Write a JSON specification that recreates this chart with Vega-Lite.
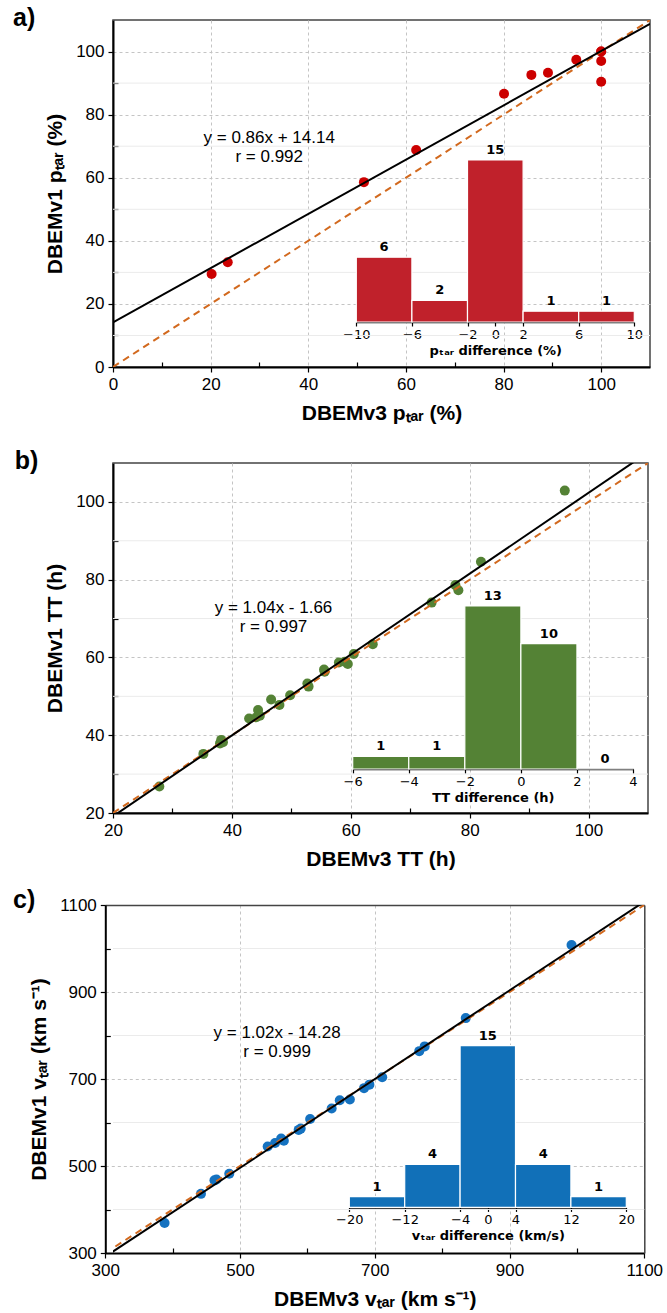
{
  "$schema": "https://vega.github.io/schema/vega-lite/v6.json",
  "padding": {"left": 12, "top": 5, "right": 5, "bottom": 5},
  "config": {
    "view": {"stroke": "#444", "strokeWidth": 1.5},
    "font": "Liberation Sans",
    "axis": {
      "labelFont": "Liberation Sans", "labelFontSize": 17, "labelColor": "black", "labelFlush": false,
      "titleFont": "Liberation Sans", "titleFontSize": 21, "titleFontWeight": "bold", "titleColor": "black",
      "domainColor": "black", "domainWidth": 2, "tickColor": "black", "tickSize": 5, "tickWidth": 1.2,
      "gridColor": "#c4c4c4", "gridDash": [3, 3], "gridWidth": 1, "labelPadding": 4
    }
  },
  "datasets": {
    "a_pts": [
      {"x": 20.2, "y": 29.5}, {"x": 23.5, "y": 33.2}, {"x": 51.4, "y": 58.6}, {"x": 62.1, "y": 68.8},
      {"x": 80.1, "y": 86.6}, {"x": 85.7, "y": 92.6}, {"x": 89.1, "y": 93.3}, {"x": 94.9, "y": 97.4},
      {"x": 100, "y": 100}, {"x": 100, "y": 100}, {"x": 100, "y": 97}, {"x": 100, "y": 90.4}
    ],
    "a_hist": [
      {"b0": -10, "b1": -6, "mid": -8, "n": 6}, {"b0": -6, "b1": -2, "mid": -4, "n": 2},
      {"b0": -2, "b1": 2, "mid": 0, "n": 15}, {"b0": 2, "b1": 6, "mid": 4, "n": 1},
      {"b0": 6, "b1": 10, "mid": 8, "n": 1}
    ],
    "b_pts": [
      {"x": 27.8, "y": 26.8}, {"x": 35.2, "y": 35.2}, {"x": 38.0, "y": 37.9}, {"x": 38.2, "y": 38.8},
      {"x": 38.5, "y": 38.2}, {"x": 42.9, "y": 44.3}, {"x": 44.1, "y": 44.6}, {"x": 44.4, "y": 46.5},
      {"x": 44.7, "y": 45.0}, {"x": 46.6, "y": 49.2}, {"x": 48.0, "y": 47.8}, {"x": 49.8, "y": 50.3},
      {"x": 52.7, "y": 53.3}, {"x": 52.9, "y": 52.5}, {"x": 55.5, "y": 56.9}, {"x": 55.6, "y": 56.3},
      {"x": 58.0, "y": 58.7}, {"x": 59.0, "y": 58.9}, {"x": 59.5, "y": 58.3}, {"x": 60.5, "y": 60.9},
      {"x": 63.7, "y": 63.4}, {"x": 73.6, "y": 74.1}, {"x": 77.6, "y": 78.6}, {"x": 78.1, "y": 77.3},
      {"x": 81.9, "y": 84.6}, {"x": 96.0, "y": 102.9}
    ],
    "b_hist": [
      {"b0": -6, "b1": -4, "mid": -5, "n": 1}, {"b0": -4, "b1": -2, "mid": -3, "n": 1},
      {"b0": -2, "b1": 0, "mid": -1, "n": 13}, {"b0": 0, "b1": 2, "mid": 1, "n": 10},
      {"b0": 2, "b1": 4, "mid": 3, "n": 0}
    ],
    "c_pts": [
      {"x": 388, "y": 369}, {"x": 442, "y": 436}, {"x": 462, "y": 467}, {"x": 465, "y": 469},
      {"x": 484, "y": 482}, {"x": 541, "y": 545}, {"x": 552, "y": 553}, {"x": 561, "y": 563},
      {"x": 565, "y": 558}, {"x": 587, "y": 583}, {"x": 590, "y": 586}, {"x": 604, "y": 608},
      {"x": 636, "y": 632}, {"x": 648, "y": 651}, {"x": 663, "y": 653}, {"x": 684, "y": 679},
      {"x": 692, "y": 687}, {"x": 711, "y": 704}, {"x": 766, "y": 764}, {"x": 774, "y": 775},
      {"x": 835, "y": 840}, {"x": 992, "y": 1008}
    ],
    "c_hist": [
      {"b0": -20, "b1": -12, "mid": -16, "n": 1}, {"b0": -12, "b1": -4, "mid": -8, "n": 4},
      {"b0": -4, "b1": 4, "mid": 0, "n": 15}, {"b0": 4, "b1": 12, "mid": 8, "n": 4},
      {"b0": 12, "b1": 20, "mid": 16, "n": 1}
    ]
  },
  "concat": [
    {
      "concat": [
        {
          "width": 537, "height": 347,
          "title": {"text": "a)", "anchor": "start", "frame": "group", "dx": -100, "dy": 24, "offset": 1, "fontSize": 25, "fontWeight": "bold", "font": "Liberation Sans", "baseline": "middle", "color": "black"},
          "layer": [
            {
              "data": {"values": [{"m": 10}, {"m": 30}, {"m": 50}, {"m": 70}, {"m": 90}]},
              "layer": [
                {"mark": {"type": "rule", "color": "#ebebeb", "strokeWidth": 1},
                 "encoding": {"y": {"field": "m", "type": "quantitative", "scale": {"domain": [0, 110], "nice": false, "zero": false},
                   "axis": {"values": [10, 30, 50, 70, 90], "labels": false, "grid": false, "domain": false, "tickSize": -5, "title": null, "orient": "left"}}}},
                {"mark": {"type": "point", "opacity": 0},
                 "encoding": {
                   "x": {"field": "m", "type": "quantitative", "scale": {"domain": [0, 110], "nice": false, "zero": false},
                     "axis": {"values": [10, 30, 50, 70, 90], "labels": false, "grid": false, "domain": false, "tickSize": -5, "title": null, "orient": "bottom"}},
                   "y": {"field": "m", "type": "quantitative",
                     "axis": {"values": [10, 30, 50, 70, 90], "labels": false, "grid": false, "domain": false, "tickSize": -5, "title": null, "orient": "left"}}}}
              ]
            },
            {
              "layer": [
                {"data": {"name": "a_pts"},
                 "mark": {"type": "circle", "size": 100, "opacity": 1, "color": "#cc0000"},
                 "encoding": {
                   "x": {"field": "x", "type": "quantitative", "scale": {"domain": [0, 110], "nice": false, "zero": false},
                     "axis": {"values": [0, 20, 40, 60, 80, 100], "title": "DBEMv3 pₜₐᵣ (%)", "grid": true, "orient": "bottom", "titlePadding": 10}},
                   "y": {"field": "y", "type": "quantitative", "scale": {"domain": [0, 110], "nice": false, "zero": false},
                     "axis": {"values": [0, 20, 40, 60, 80, 100], "title": "DBEMv1 pₜₐᵣ (%)", "grid": true, "orient": "left", "titlePadding": 10}}}},
                {"data": {"values": [{"x": 0, "y": 0}, {"x": 110, "y": 110}]},
                 "mark": {"type": "line", "color": "#d2691e", "strokeWidth": 2, "strokeDash": [7, 5], "clip": true},
                 "encoding": {"x": {"field": "x", "type": "quantitative"}, "y": {"field": "y", "type": "quantitative"}}},
                {"data": {"values": [{"x": 0, "y": 14.14}, {"x": 110, "y": 108.74}]},
                 "mark": {"type": "line", "color": "black", "strokeWidth": 2, "clip": true},
                 "encoding": {"x": {"field": "x", "type": "quantitative"}, "y": {"field": "y", "type": "quantitative"}}},
                {"data": {"values": [{}]},
                 "mark": {"type": "text", "text": ["y = 0.86x + 14.14", "r = 0.992"], "fontSize": 17, "font": "Liberation Sans", "align": "center", "baseline": "middle", "lineHeight": 19, "color": "black"},
                 "encoding": {"x": {"datum": 32}, "y": {"datum": 72.7}}}
              ]
            },
            {
              "data": {"name": "a_hist"},
              "layer": [
                {"mark": {"type": "rect", "color": "#c0212b", "stroke": "white", "strokeWidth": 1.2},
                 "encoding": {
                   "x": {"field": "b0", "type": "quantitative", "scale": {"domain": [-10, 10], "range": [243.3, 521.3], "nice": false, "zero": false},
                     "axis": {"orient": "bottom", "offset": -45, "values": [-10, -6, -2, 0, 2, 6, 10], "title": "pₜₐᵣ difference (%)", "grid": false,
                       "labelFont": "DejaVu Sans", "labelFontSize": 13, "titleFont": "DejaVu Sans", "titleFontSize": 13, "titleFontWeight": "bold",
                       "domainWidth": 1.5, "tickSize": 4, "labelPadding": 2, "titlePadding": 3}},
                   "x2": {"field": "b1"},
                   "y": {"field": "n", "type": "quantitative", "scale": {"domain": [0, 15], "range": [302, 140], "nice": false, "zero": false}, "axis": null},
                   "y2": {"datum": 0}}},
                {"mark": {"type": "text", "font": "DejaVu Sans", "fontSize": 13, "fontWeight": "bold", "baseline": "bottom", "dy": -3, "color": "black"},
                 "encoding": {"x": {"field": "mid", "type": "quantitative"}, "y": {"field": "n", "type": "quantitative"}, "text": {"field": "n", "type": "quantitative"}}}
              ]
            }
          ],
          "resolve": {"scale": {"x": "independent", "y": "independent"}, "axis": {"x": "independent", "y": "independent"}}
        },
        {
          "width": 535, "height": 350,
          "title": {"text": "b)", "anchor": "start", "frame": "group", "dx": -98.3, "dy": 24, "offset": 1, "fontSize": 25, "fontWeight": "bold", "font": "Liberation Sans", "baseline": "middle", "color": "black"},
          "layer": [
            {
              "data": {"values": [{"m": 30}, {"m": 50}, {"m": 70}, {"m": 90}]},
              "layer": [
                {"mark": {"type": "rule", "color": "#ebebeb", "strokeWidth": 1},
                 "encoding": {"y": {"field": "m", "type": "quantitative", "scale": {"domain": [20, 110], "nice": false, "zero": false},
                   "axis": {"values": [30, 50, 70, 90], "labels": false, "grid": false, "domain": false, "tickSize": -5, "title": null, "orient": "left"}}}},
                {"mark": {"type": "point", "opacity": 0},
                 "encoding": {
                   "x": {"field": "m", "type": "quantitative", "scale": {"domain": [20, 110], "nice": false, "zero": false},
                     "axis": {"values": [30, 50, 70, 90], "labels": false, "grid": false, "domain": false, "tickSize": -5, "title": null, "orient": "bottom"}},
                   "y": {"field": "m", "type": "quantitative",
                     "axis": {"values": [30, 50, 70, 90], "labels": false, "grid": false, "domain": false, "tickSize": -5, "title": null, "orient": "left"}}}}
              ]
            },
            {
              "layer": [
                {"data": {"name": "b_pts"},
                 "mark": {"type": "circle", "size": 100, "opacity": 1, "color": "#548235"},
                 "encoding": {
                   "x": {"field": "x", "type": "quantitative", "scale": {"domain": [20, 110], "nice": false, "zero": false},
                     "axis": {"values": [20, 40, 60, 80, 100], "title": "DBEMv3 TT (h)", "grid": true, "orient": "bottom", "titlePadding": 10}},
                   "y": {"field": "y", "type": "quantitative", "scale": {"domain": [20, 110], "nice": false, "zero": false},
                     "axis": {"values": [20, 40, 60, 80, 100], "title": "DBEMv1 TT (h)", "grid": true, "orient": "left", "titlePadding": 10}}}},
                {"data": {"values": [{"x": 20, "y": 20}, {"x": 110, "y": 110}]},
                 "mark": {"type": "line", "color": "#d2691e", "strokeWidth": 2, "strokeDash": [7, 5], "clip": true},
                 "encoding": {"x": {"field": "x", "type": "quantitative"}, "y": {"field": "y", "type": "quantitative"}}},
                {"data": {"values": [{"x": 20, "y": 19.14}, {"x": 110, "y": 112.74}]},
                 "mark": {"type": "line", "color": "black", "strokeWidth": 2, "clip": true},
                 "encoding": {"x": {"field": "x", "type": "quantitative"}, "y": {"field": "y", "type": "quantitative"}}},
                {"data": {"values": [{}]},
                 "mark": {"type": "text", "text": ["y = 1.04x - 1.66", "r = 0.997"], "fontSize": 17, "font": "Liberation Sans", "align": "center", "baseline": "middle", "lineHeight": 19, "color": "black"},
                 "encoding": {"x": {"datum": 47}, "y": {"datum": 72.6}}}
              ]
            },
            {
              "data": {"name": "b_hist"},
              "layer": [
                {"mark": {"type": "rect", "color": "#548235", "stroke": "white", "strokeWidth": 1.2},
                 "encoding": {
                   "x": {"field": "b0", "type": "quantitative", "scale": {"domain": [-6, 4], "range": [239.7, 520], "nice": false, "zero": false},
                     "axis": {"orient": "bottom", "offset": -44, "values": [-6, -4, -2, 0, 2, 4], "title": "TT difference (h)", "grid": false,
                       "labelFont": "DejaVu Sans", "labelFontSize": 13, "titleFont": "DejaVu Sans", "titleFontSize": 13, "titleFontWeight": "bold",
                       "domainWidth": 1.5, "tickSize": 4, "labelPadding": 2, "titlePadding": 3}},
                   "x2": {"field": "b1"},
                   "y": {"field": "n", "type": "quantitative", "scale": {"domain": [0, 13], "range": [306, 143], "nice": false, "zero": false}, "axis": null},
                   "y2": {"datum": 0}}},
                {"mark": {"type": "text", "font": "DejaVu Sans", "fontSize": 13, "fontWeight": "bold", "baseline": "bottom", "dy": -3, "color": "black"},
                 "encoding": {"x": {"field": "mid", "type": "quantitative"}, "y": {"field": "n", "type": "quantitative"}, "text": {"field": "n", "type": "quantitative"}}}
              ]
            }
          ],
          "resolve": {"scale": {"x": "independent", "y": "independent"}, "axis": {"x": "independent", "y": "independent"}}
        }
      ],
      "columns": 1,
      "spacing": 24,
      "align": "none"
    },
    {
      "width": 531.3, "height": 348,
      "view": {"stroke": null},
      "title": {"text": "c)", "anchor": "start", "frame": "group", "dx": -100, "dy": 30, "offset": 1, "fontSize": 25, "fontWeight": "bold", "font": "Liberation Sans", "baseline": "middle", "color": "black"},
      "layer": [
        {
          "data": {"values": [{"m": 400}, {"m": 600}, {"m": 800}, {"m": 1000}]},
          "layer": [
            {"mark": {"type": "rule", "color": "#ebebeb", "strokeWidth": 1},
             "encoding": {"y": {"field": "m", "type": "quantitative", "scale": {"domain": [300, 1100], "nice": false, "zero": false},
               "axis": {"values": [400, 600, 800, 1000], "labels": false, "grid": false, "domain": false, "tickSize": -5, "title": null, "orient": "left", "offset": 7.7}}}},
            {"mark": {"type": "point", "opacity": 0},
             "encoding": {
               "x": {"field": "m", "type": "quantitative", "scale": {"domain": [300, 1100], "range": [-7.7, 531.3], "nice": false, "zero": false},
                 "axis": {"values": [400, 600, 800, 1000], "labels": false, "grid": false, "domain": false, "tickSize": -5, "title": null, "orient": "bottom"}},
               "y": {"field": "m", "type": "quantitative",
                 "axis": {"values": [400, 600, 800, 1000], "labels": false, "grid": false, "domain": false, "tickSize": -5, "title": null, "orient": "left", "offset": 7.7}}}}
          ]
        },
        {
          "data": {"values": [{"m": 300}]},
          "mark": {"type": "point", "opacity": 0},
          "encoding": {
            "x": {"field": "m", "type": "quantitative", "scale": {"domain": [300, 1100], "range": [-7.7, 531.3], "nice": false, "zero": false},
              "axis": {"orient": "top", "labels": false, "ticks": false, "grid": false, "title": null, "domain": true, "domainColor": "#444", "domainWidth": 1.5}},
            "y": {"field": "m", "type": "quantitative", "scale": {"domain": [300, 1100], "nice": false, "zero": false},
              "axis": {"orient": "right", "labels": false, "ticks": false, "grid": false, "title": null, "domain": true, "domainColor": "#444", "domainWidth": 1.5}}}
        },
        {
          "layer": [
            {"data": {"name": "c_pts"},
             "mark": {"type": "circle", "size": 100, "opacity": 1, "color": "#1572c0"},
             "encoding": {
               "x": {"field": "x", "type": "quantitative", "scale": {"domain": [300, 1100], "range": [-7.7, 531.3], "nice": false, "zero": false},
                 "axis": {"values": [300, 500, 700, 900, 1100], "format": "d", "title": "DBEMv3 vₜₐᵣ (km s⁻¹)", "grid": true, "orient": "bottom", "titlePadding": 10}},
               "y": {"field": "y", "type": "quantitative", "scale": {"domain": [300, 1100], "nice": false, "zero": false},
                 "axis": {"values": [300, 500, 700, 900, 1100], "format": "d", "title": "DBEMv1 vₜₐᵣ (km s⁻¹)", "grid": true, "orient": "left", "offset": 7.7, "titlePadding": 10}}}},
            {"data": {"values": [{"x": 300, "y": 300}, {"x": 1100, "y": 1100}]},
             "mark": {"type": "line", "color": "#d2691e", "strokeWidth": 2, "strokeDash": [7, 5], "clip": true},
             "encoding": {"x": {"field": "x", "type": "quantitative"}, "y": {"field": "y", "type": "quantitative"}}},
            {"data": {"values": [{"x": 300, "y": 291.72}, {"x": 1100, "y": 1107.72}]},
             "mark": {"type": "line", "color": "black", "strokeWidth": 2, "clip": true},
             "encoding": {"x": {"field": "x", "type": "quantitative"}, "y": {"field": "y", "type": "quantitative"}}},
            {"data": {"values": [{}]},
             "mark": {"type": "text", "text": ["y = 1.02x - 14.28", "r = 0.999"], "fontSize": 17, "font": "Liberation Sans", "align": "center", "baseline": "middle", "lineHeight": 19, "color": "black"},
             "encoding": {"x": {"datum": 555}, "y": {"datum": 806}}}
          ]
        },
        {
          "data": {"name": "c_hist"},
          "layer": [
            {"mark": {"type": "rect", "color": "#1170b8", "stroke": "white", "strokeWidth": 1.2},
             "encoding": {
               "x": {"field": "b0", "type": "quantitative", "scale": {"domain": [-20, 20], "range": [236.3, 513.3], "nice": false, "zero": false},
                 "axis": {"orient": "bottom", "offset": -45.6, "values": [-20, -12, -4, 0, 4, 12, 20], "title": "vₜₐᵣ difference (km/s)", "grid": false,
                   "labelFont": "DejaVu Sans", "labelFontSize": 13, "titleFont": "DejaVu Sans", "titleFontSize": 13, "titleFontWeight": "bold",
                   "domainWidth": 1.5, "tickSize": 4, "labelPadding": 2, "titlePadding": 3}},
               "x2": {"field": "b1"},
               "y": {"field": "n", "type": "quantitative", "scale": {"domain": [0, 15], "range": [302.4, 140.7], "nice": false, "zero": false}, "axis": null},
               "y2": {"datum": 0}}},
            {"mark": {"type": "text", "font": "DejaVu Sans", "fontSize": 13, "fontWeight": "bold", "baseline": "bottom", "dy": -3, "color": "black"},
             "encoding": {"x": {"field": "mid", "type": "quantitative"}, "y": {"field": "n", "type": "quantitative"}, "text": {"field": "n", "type": "quantitative"}}}
          ]
        }
      ],
      "resolve": {"scale": {"x": "independent", "y": "independent"}, "axis": {"x": "independent", "y": "independent"}}
    }
  ],
  "columns": 1,
  "spacing": 18,
  "align": "none"
}
